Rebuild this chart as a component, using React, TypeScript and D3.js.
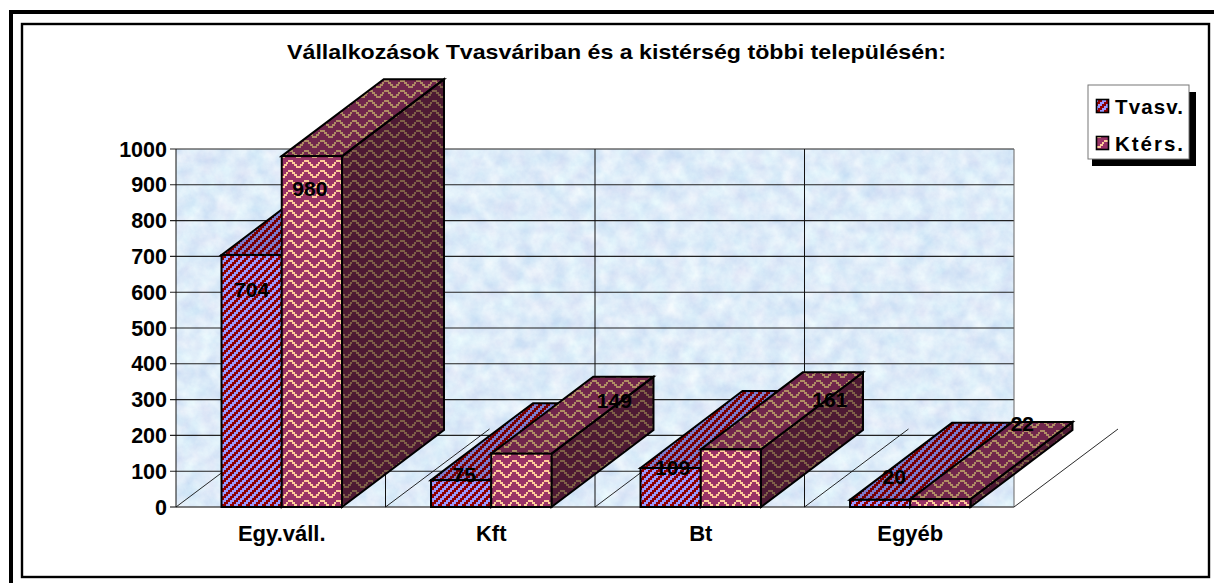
import React from "react";
import * as d3 from "d3";

const title = "Vállalkozások Tvasváriban és a kistérség többi településén:";
const categories = ["Egy.váll.", "Kft", "Bt", "Egyéb"];
const seriesNames = ["Tvasv.", "Ktérs."];
const tvasv = [704, 75, 109, 20];
const kters = [980, 149, 161, 22];
const yTicks = [0, 100, 200, 300, 400, 500, 600, 700, 800, 900, 1000];

// Styling / layout constants
const FONT = "'Liberation Sans', Arial, sans-serif";
const DX = 102;
const DY = -77;
const FLOOR_DX = 104;
const FLOOR_DY = -78;
const BAR_SHIFT = 1;
const labelOffsetsT = [[0, 42], [3, 2], [2, 7], [14, -16]];
const labelOffsetsK = [[-2, 40], [93, -46], [99, -42], [82, -68]];

const y = d3.scaleLinear().domain([0, 1000]).range([507, 149]);
const x = d3.scaleBand<string>().domain(categories).range([176, 1014]);
const barW = x.bandwidth() * 0.2875;

const faces = {
  T: { front: ["#9999ff", "#8f0000"], top: ["#7b7bcc", "#790000"], side: ["#4d4d80", "#480000"] },
  K: { front: ["#993366", "#ffcc99"], top: ["#70264c", "#b08c64"], side: ["#4d1a33", "#7f6048"] },
};

const stairSteps = d3.range(4);
const zigLevels = [0, 0, 2, 4, 6, 6, 4, 2];

function Stripes({ id, c }: { id: string; c: string[] }) {
  return (
    <pattern id={id} width={8} height={8} patternUnits="userSpaceOnUse">
      <rect width={8} height={8} fill={c[0]} />
      {stairSteps.map((k) => (
        <React.Fragment key={k}>
          <rect x={k * 2} y={6 - k * 2} width={4} height={2} fill={c[1]} />
          <rect x={k * 2 - 8} y={6 - k * 2} width={4} height={2} fill={c[1]} />
        </React.Fragment>
      ))}
    </pattern>
  );
}

function Zigzag({ id, c }: { id: string; c: string[] }) {
  return (
    <pattern id={id} width={16} height={10} patternUnits="userSpaceOnUse">
      <rect width={16} height={10} fill={c[0]} />
      {zigLevels.map((l, i) => (
        <rect key={i} x={i * 2} y={l} width={3} height={2} fill={c[1]} />
      ))}
    </pattern>
  );
}

function Bar({ x0, v, kind }: { x0: number; v: number; kind: "T" | "K" }) {
  const x1 = x0 + barW;
  const top = y(v);
  const base = y(0);
  const poly = (pts: number[][]) => pts.map((p) => p.join(",")).join(" ");
  const st = { stroke: "#000", strokeWidth: 2, strokeLinejoin: "miter" as const };
  return (
    <g>
      <polygon
        points={poly([[x1, base], [x1 + DX, base + DY], [x1 + DX, top + DY], [x1, top]])}
        fill={`url(#${kind}side)`}
        {...st}
      />
      <polygon
        points={poly([[x0, top], [x0 + DX, top + DY], [x1 + DX, top + DY], [x1, top]])}
        fill={`url(#${kind}top)`}
        {...st}
      />
      <rect x={x0} y={top} width={barW} height={base - top} fill={`url(#${kind}front)`} {...st} />
    </g>
  );
}

export default function App() {
  const verticals = [...categories.map((c) => x(c)!), x.range()[1]];
  const base = y(0);
  const wallW = x.range()[1] - x.range()[0];
  const wallH = y(0) - y(1000);
  const textStyle = { fontFamily: FONT, fontWeight: 700, fill: "#000" };
  const barStart = (c: string) => x(c)! + (x.bandwidth() - 2 * barW) / 2 + BAR_SHIFT;
  return (
    <svg
      width={1214}
      height={583}
      viewBox="0 0 1214 583"
      style={{ position: "absolute", left: 0, top: 0, display: "block", background: "#fff" }}
    >
      <defs>
        <Stripes id="Tfront" c={faces.T.front} />
        <Stripes id="Ttop" c={faces.T.top} />
        <Stripes id="Tside" c={faces.T.side} />
        <Zigzag id="Kfront" c={faces.K.front} />
        <Zigzag id="Ktop" c={faces.K.top} />
        <Zigzag id="Kside" c={faces.K.side} />
        <filter id="mottle" x="0" y="0" width="100%" height="100%" colorInterpolationFilters="sRGB">
          <feTurbulence type="fractalNoise" baseFrequency="0.06" numOctaves={5} seed={7} />
          <feColorMatrix
            type="matrix"
            values="0.18 0.08 0 0 0.74  0.15 0 0 0 0.85  0.05 0 0 0 0.95  0 0 0 0 1"
          />
        </filter>
      </defs>

      {/* frames */}
      <rect x={11} y={12} width={1300} height={700} fill="none" stroke="#000" strokeWidth={4} />
      <rect x={22} y={24} width={1187} height={553} fill="#fff" stroke="#000" strokeWidth={2.4} />

      {/* wall */}
      <rect x={x.range()[0]} y={y(1000)} width={wallW} height={wallH} fill="#dcebf9" filter="url(#mottle)" />

      {yTicks.map((t) => (
        <g key={t}>
          <line
            x1={170}
            x2={x.range()[1]}
            y1={y(t)}
            y2={y(t)}
            stroke={t === 0 ? "#555" : "#222"}
            strokeWidth={t === 0 ? 1.6 : 1.1}
          />
          <text x={167} y={y(t) + 7.5} textAnchor="end" fontSize={21.5} {...textStyle}>
            {t}
          </text>
        </g>
      ))}

      {verticals.map((vx, i) => (
        <g key={i}>
          <line x1={vx} x2={vx} y1={y(1000)} y2={base} stroke={i === 4 ? "#666" : "#111"} strokeWidth={1} />
          <line x1={vx} x2={vx + FLOOR_DX} y1={base} y2={base + FLOOR_DY} stroke="#111" strokeWidth={0.9} />
        </g>
      ))}

      {/* bars */}
      {categories.map((c, i) => (
        <g key={c}>
          <Bar x0={barStart(c)} v={tvasv[i]} kind="T" />
          <Bar x0={barStart(c) + barW} v={kters[i]} kind="K" />
        </g>
      ))}

      {/* data labels */}
      {categories.map((c, i) => (
        <g key={c} textAnchor="middle">
          <text x={barStart(c) + barW / 2 + labelOffsetsT[i][0]} y={y(tvasv[i]) + labelOffsetsT[i][1]} fontSize={21} {...textStyle}>
            {tvasv[i]}
          </text>
          <text x={barStart(c) + 1.5 * barW + labelOffsetsK[i][0]} y={y(kters[i]) + labelOffsetsK[i][1]} fontSize={21} {...textStyle}>
            {kters[i]}
          </text>
        </g>
      ))}

      {/* category labels */}
      {categories.map((c) => (
        <text key={c} x={x(c)! + x.bandwidth() / 2 + BAR_SHIFT} y={541} textAnchor="middle" fontSize={22} {...textStyle}>
          {c}
        </text>
      ))}

      {/* title */}
      <text x={616.5} y={59} textAnchor="middle" fontSize={21} textLength={659} lengthAdjust="spacingAndGlyphs" {...textStyle}>
        {title}
      </text>

      {/* legend */}
      <rect x={1092} y={92} width={104} height={74} fill="#000" />
      <rect x={1088} y={85} width={101} height={74} fill="#fff" stroke="#777" strokeWidth={1} />
      {seriesNames.map((n, i) => {
        const ly = 99 + i * 37;
        const kind = i === 0 ? "T" : "K";
        return (
          <g key={n}>
            <rect x={1096.5} y={ly + 0.5} width={12} height={13} fill={`url(#${kind}front)`} stroke="#000" strokeWidth={1.6} />
            <text x={1115} y={ly + 14.5} fontSize={20.5} textLength={68} lengthAdjust="spacing" {...textStyle}>
              {n}
            </text>
          </g>
        );
      })}
    </svg>
  );
}
